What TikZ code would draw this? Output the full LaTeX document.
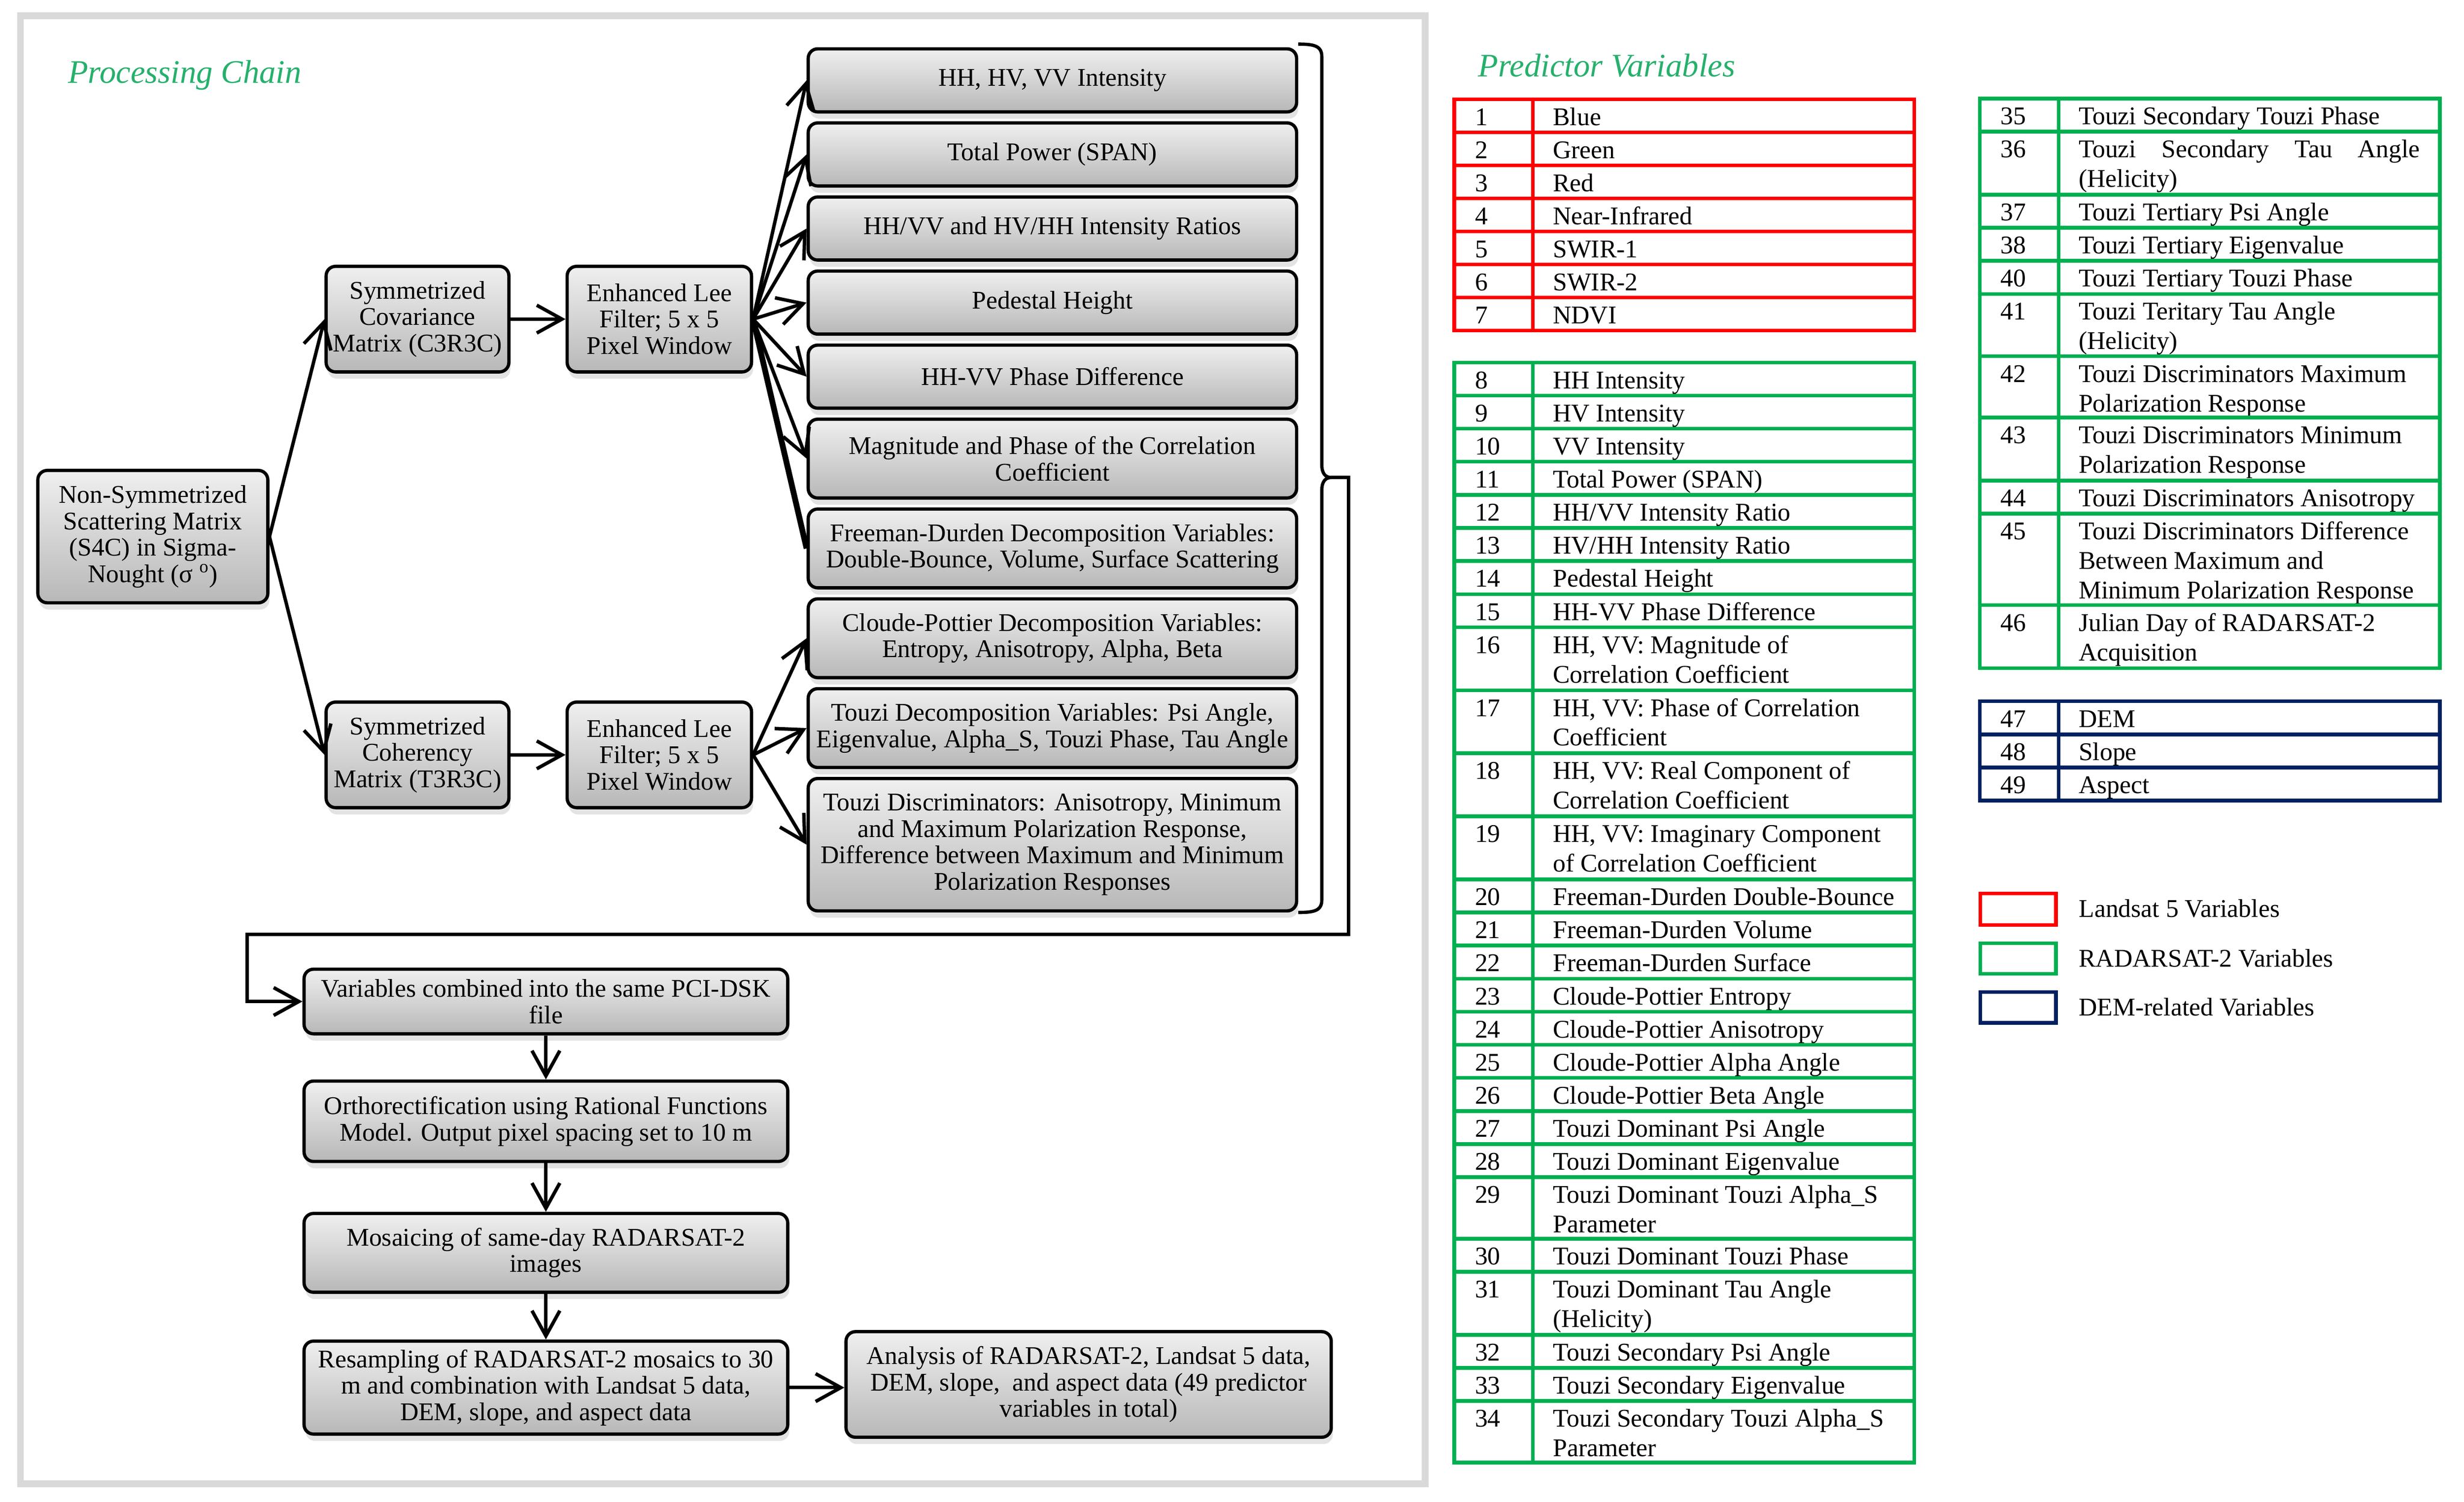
\documentclass[tikz,border=0pt]{standalone}
\usepackage{fontspec}
\setmainfont{Liberation Serif}
\usetikzlibrary{arrows.meta,shadows}
\definecolor{titlegreen}{RGB}{38,176,108}
\definecolor{tred}{RGB}{255,0,0}
\definecolor{tgreen}{RGB}{0,176,80}
\definecolor{tblue}{RGB}{0,32,96}
\definecolor{framegray}{RGB}{217,217,217}
\newcommand\boxfont{\fontsize{13.8pt}{14.3pt}\selectfont}
\newcommand\tabfont{\fontsize{13.8pt}{16pt}\selectfont}
\newcommand\titlefont{\fontsize{17.8pt}{20pt}\selectfont\itshape}
\newcommand\trow[6]{%
  \draw[tabline,draw=#6] (#1,#2) rectangle ++(50,#3);
  \draw[tabline,draw=#6] (#1+50,#2) rectangle ++(242,#3);
  \node[tabtext] (num#4) at (#1+13,#2+16.5) {#4};
  \node[tabtext] (txt#4) at (#1+62.5,#2+16.5) {\parbox[t]{80mm}{\raggedright #5}};
}
\begin{document}
\begin{tikzpicture}[x=0.3mm,y=-0.3mm,
  wh/.style 2 args={minimum width=#1*0.3mm,minimum height=#2*0.3mm},
  fbox/.style={draw=black,line width=0.62mm,rounded corners=1.8mm,
    top color=black!6,bottom color=black!28,
    drop shadow={opacity=0.22,shadow xshift=0.3mm,shadow yshift=-1.3mm},
    align=center,inner sep=0pt,font=\boxfont},
  arr/.style={line width=0.66mm,-{Straight Barb[length=4.8mm,width=5.3mm]}},
  thickline/.style={line width=1.1mm},
  tabline/.style={line width=0.7mm},
  tabtext/.style={anchor=base west,inner sep=0pt,font=\tabfont},
  ttl/.style={anchor=base west,inner sep=0pt,font=\titlefont,text=titlegreen}]
\useasboundingbox (0,0) rectangle (1564,953);
\draw[framegray,line width=1.3mm] (13,10) rectangle (904.5,941.4);
\node[ttl] (pctitle) at (43,52.6) {Processing Chain};

% flow chart nodes
\node[fbox,wh={146}{84}] (ns) at (97,340.5) {Non-Symmetrized\\Scattering Matrix\\(S4C) in Sigma-\\Nought (σ \textsuperscript{o})};
\node[fbox,wh={116}{67}] (cov) at (265,202.5) {Symmetrized\\Covariance\\Matrix (C3R3C)};
\node[fbox,wh={117}{67}] (lee1) at (418.5,202.5) {Enhanced Lee\\Filter; 5 x 5\\Pixel Window};
\node[fbox,wh={116}{67}] (coh) at (265,479) {Symmetrized\\Coherency\\Matrix (T3R3C)};
\node[fbox,wh={117}{67}] (lee2) at (418.5,479) {Enhanced Lee\\Filter; 5 x 5\\Pixel Window};

\node[fbox,wh={310}{40}] (r1) at (668,51) {HH, HV, VV Intensity};
\node[fbox,wh={310}{40}] (r2) at (668,98) {Total Power (SPAN)};
\node[fbox,wh={310}{40}] (r3) at (668,145) {HH/VV and HV/HH Intensity Ratios};
\node[fbox,wh={310}{40}] (r4) at (668,192) {Pedestal Height};
\node[fbox,wh={310}{40}] (r5) at (668,239) {HH-VV Phase Difference};
\node[fbox,wh={310}{50}] (r6) at (668,291) {Magnitude and Phase of the Correlation\\Coefficient};
\node[fbox,wh={310}{50}] (r7) at (668,348) {Freeman-Durden Decomposition Variables:\\Double-Bounce, Volume, Surface Scattering};
\node[fbox,wh={310}{50}] (r8) at (668,405) {Cloude-Pottier Decomposition Variables:\\Entropy, Anisotropy, Alpha, Beta};
\node[fbox,wh={310}{50}] (r9) at (668,462) {Touzi Decomposition Variables: Psi Angle,\\Eigenvalue, Alpha\_S, Touzi Phase, Tau Angle};
\node[fbox,wh={310}{84}] (r10) at (668,536) {Touzi Discriminators: Anisotropy, Minimum\\and Maximum Polarization Response,\\Difference between Maximum and Minimum\\Polarization Responses};

\node[fbox,wh={307}{41}] (comb) at (346.5,635.5) {Variables combined into the same PCI-DSK\\file};
\node[fbox,wh={307}{51}] (ortho) at (346.5,711.5) {Orthorectification using Rational Functions\\Model. Output pixel spacing set to 10 m};
\node[fbox,wh={307}{50}] (mos) at (346.5,795) {Mosaicing of same-day RADARSAT-2\\images};
\node[fbox,wh={307}{59}] (res) at (346.5,880.5) {Resampling of RADARSAT-2 mosaics to 30\\m and combination with Landsat 5 data,\\DEM, slope, and aspect data};
\node[fbox,wh={308}{67}] (ana) at (691,878.5) {Analysis of RADARSAT-2, Landsat 5 data,\\DEM, slope,~ and aspect data (49 predictor\\variables in total)};

% connectors
\draw[arr] (ns.east) -- (cov.west);
\draw[arr] (ns.east) -- (coh.west);
\draw[arr] (cov.east) -- (lee1.west);
\draw[arr] (coh.east) -- (lee2.west);
\foreach \t in {r1,r2,r3,r4,r5,r6} \draw[arr] (lee1.east) -- (\t.west);
\draw[thickline] (lee1.east) -- (r7.west);
\foreach \t in {r8,r9,r10} \draw[arr] (lee2.east) -- (\t.west);
\draw[arr] (comb.south) -- (ortho.north);
\draw[arr] (ortho.south) -- (mos.north);
\draw[arr] (mos.south) -- (res.north);
\draw[arr] (res.east) -- (res.east -| ana.west);

% brace and feedback connector
\coordinate (bt) at (845,303);
\draw[line width=0.62mm] (824,28) .. controls (834,28) and (839,29) .. (839,36) -- (839,295)
  .. controls (839,300) and (841,303) .. (bt) .. controls (841,303) and (839,306) .. (839,311)
  -- (839,571) .. controls (839,578) and (834,579) .. (824,579);
\coordinate (bend) at (856,303);
\draw[arr] (bt) -- (bend) |- (157,593) |- (comb.west);

% predictor variables
\node[ttl] (pvtitle) at (938,48.7) {Predictor Variables};

\trow{923}{63}{20.95}{1}{Blue}{tred}
\trow{923}{83.95}{20.95}{2}{Green}{tred}
\trow{923}{104.9}{20.95}{3}{Red}{tred}
\trow{923}{125.85}{20.95}{4}{Near-Infrared}{tred}
\trow{923}{146.8}{20.95}{5}{SWIR-1}{tred}
\trow{923}{167.75}{20.95}{6}{SWIR-2}{tred}
\trow{923}{188.7}{20.95}{7}{NDVI}{tred}

\trow{923}{230}{21}{8}{HH Intensity}{tgreen}
\trow{923}{251}{21}{9}{HV Intensity}{tgreen}
\trow{923}{272}{21}{10}{VV Intensity}{tgreen}
\trow{923}{293}{21}{11}{Total Power (SPAN)}{tgreen}
\trow{923}{314}{21}{12}{HH/VV Intensity Ratio}{tgreen}
\trow{923}{335}{21}{13}{HV/HH Intensity Ratio}{tgreen}
\trow{923}{356}{21}{14}{Pedestal Height}{tgreen}
\trow{923}{377}{21}{15}{HH-VV Phase Difference}{tgreen}
\trow{923}{398}{40}{16}{HH, VV: Magnitude of\\Correlation Coefficient}{tgreen}
\trow{923}{438}{40}{17}{HH, VV: Phase of Correlation\\Coefficient}{tgreen}
\trow{923}{478}{40}{18}{HH, VV: Real Component of\\Correlation Coefficient}{tgreen}
\trow{923}{518}{40}{19}{HH, VV: Imaginary Component\\of Correlation Coefficient}{tgreen}
\trow{923}{558}{21}{20}{Freeman-Durden Double-Bounce}{tgreen}
\trow{923}{579}{21}{21}{Freeman-Durden Volume}{tgreen}
\trow{923}{600}{21}{22}{Freeman-Durden Surface}{tgreen}
\trow{923}{621}{21}{23}{Cloude-Pottier Entropy}{tgreen}
\trow{923}{642}{21}{24}{Cloude-Pottier Anisotropy}{tgreen}
\trow{923}{663}{21}{25}{Cloude-Pottier Alpha Angle}{tgreen}
\trow{923}{684}{21}{26}{Cloude-Pottier Beta Angle}{tgreen}
\trow{923}{705}{21}{27}{Touzi Dominant Psi Angle}{tgreen}
\trow{923}{726}{21}{28}{Touzi Dominant Eigenvalue}{tgreen}
\trow{923}{747}{39}{29}{Touzi Dominant Touzi Alpha\_S\\Parameter}{tgreen}
\trow{923}{786}{21}{30}{Touzi Dominant Touzi Phase}{tgreen}
\trow{923}{807}{40}{31}{Touzi Dominant Tau Angle\\(Helicity)}{tgreen}
\trow{923}{847}{21}{32}{Touzi Secondary Psi Angle}{tgreen}
\trow{923}{868}{21}{33}{Touzi Secondary Eigenvalue}{tgreen}
\trow{923}{889}{39}{34}{Touzi Secondary Touzi Alpha\_S\\Parameter}{tgreen}

\trow{1256.7}{62.5}{21}{35}{Touzi Secondary Touzi Phase}{tgreen}
\trow{1256.7}{83.5}{40}{36}{\makebox[65mm][s]{Touzi Secondary Tau Angle}\\(Helicity)}{tgreen}
\trow{1256.7}{123.5}{21}{37}{Touzi Tertiary Psi Angle}{tgreen}
\trow{1256.7}{144.5}{21}{38}{Touzi Tertiary Eigenvalue}{tgreen}
\trow{1256.7}{165.5}{21}{40}{Touzi Tertiary Touzi Phase}{tgreen}
\trow{1256.7}{186.5}{39.5}{41}{Touzi Teritary Tau Angle\\(Helicity)}{tgreen}
\trow{1256.7}{226}{39}{42}{Touzi Discriminators Maximum\\Polarization Response}{tgreen}
\trow{1256.7}{265}{40}{43}{Touzi Discriminators Minimum\\Polarization Response}{tgreen}
\trow{1256.7}{305}{21}{44}{Touzi Discriminators Anisotropy}{tgreen}
\trow{1256.7}{326}{58}{45}{Touzi Discriminators Difference\\Between Maximum and\\Minimum Polarization Response}{tgreen}
\trow{1256.7}{384}{40}{46}{Julian Day of RADARSAT-2\\Acquisition}{tgreen}

\trow{1256.7}{445}{21}{47}{DEM}{tblue}
\trow{1256.7}{466}{21}{48}{Slope}{tblue}
\trow{1256.7}{487}{21}{49}{Aspect}{tblue}

% legend
\draw[tabline,draw=tred] (1257,567) rectangle (1305,587);
\draw[tabline,draw=tgreen] (1257,598.5) rectangle (1305,618);
\draw[tabline,draw=tblue] (1257,629.5) rectangle (1305,649);
\node[tabtext] (leg1) at (1319.3,582) {Landsat 5 Variables};
\node[tabtext] (leg2) at (1319.3,613.5) {RADARSAT-2 Variables};
\node[tabtext] (leg3) at (1319.3,644.6) {DEM-related Variables};
\end{tikzpicture}
\end{document}
